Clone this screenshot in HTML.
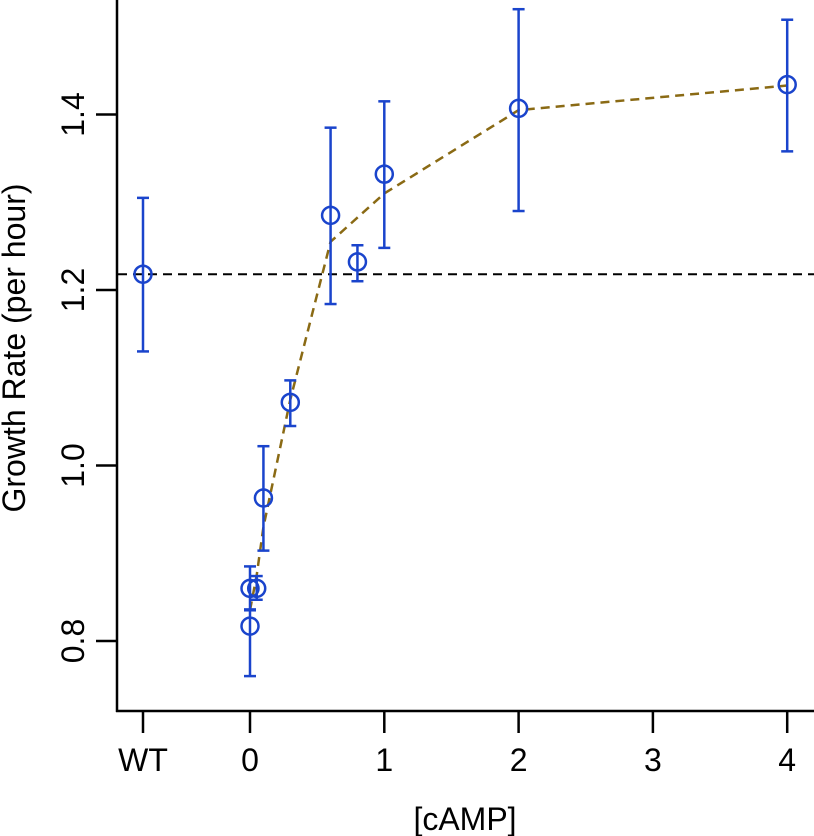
<!DOCTYPE html>
<html><head><meta charset="utf-8"><style>
html,body{margin:0;padding:0;background:#fff;}
svg{display:block;font-family:"Liberation Sans",Arial,sans-serif;}
</style></head><body>
<svg id="chart" width="814" height="836" viewBox="0 0 814 836" xmlns="http://www.w3.org/2000/svg"></svg>
<script>
const camp = [0, 0, 0.05, 0.1, 0.3, 0.6, 0.8, 1, 2, 4];
const rate = [0.86, 0.817, 0.86, 0.963, 1.072, 1.285, 1.232, 1.332, 1.407, 1.434];
const errLo = [0.835, 0.76, 0.847, 0.903, 1.045, 1.184, 1.21, 1.248, 1.29, 1.358];
const errHi = [0.885, 0.836, 0.874, 1.022, 1.097, 1.385, 1.251, 1.415, 1.52, 1.508];
const wtRate = 1.218, wtLo = 1.13, wtHi = 1.305;
const fitX = [0, 0.05, 0.1, 0.3, 0.6, 1, 2, 4];
const fitY = [0.835, 0.875, 0.93, 1.075, 1.255, 1.31, 1.405, 1.433];
const xTickVals = [0, 1, 2, 3, 4];
const xTickLabels = ["0", "1", "2", "3", "4"];
const yTickVals = [0.8, 1.0, 1.2, 1.4];
const yTickLabels = ["0.8", "1.0", "1.2", "1.4"];

const svg = document.getElementById('chart');
const NS = 'http://www.w3.org/2000/svg';
const X = v => 250 + v * 134.3;
const XWT = 143;
const Y = v => 641 - (v - 0.8) * 877.5;
function mk(tag, attrs, parent) {
  const e = document.createElementNS(NS, tag);
  for (const k in attrs) e.setAttribute(k, attrs[k]);
  (parent || svg).appendChild(e);
  return e;
}
let e;
e = mk('line', {x1:117, y1:0, x2:117, y2:712, stroke:'#000', 'stroke-width':2.5});


e = mk('line', {x1:116, y1:711, x2:814, y2:711, stroke:'#000', 'stroke-width':2.5});


yTickVals.forEach((v, i) => {
  const t = mk('line', {x1:96, y1:Y(v), x2:117, y2:Y(v), stroke:'#000', 'stroke-width':2.5});
  
  
  const l = mk('text', {x:0, y:0, 'font-size':32, 'text-anchor':'middle', transform:`translate(84,${Y(v)}) rotate(-90)`});
  l.textContent = yTickLabels[i];
  
  
});
function xtick(x, label) {
  const t = mk('line', {x1:x, y1:711, x2:x, y2:733, stroke:'#000', 'stroke-width':2.5});
  
  
  const l = mk('text', {x:x, y:771, 'font-size':32, 'text-anchor':'middle'});
  l.textContent = label;
  
  
}
xtick(XWT, 'WT');
xTickVals.forEach((v, i) => xtick(X(v), xTickLabels[i]));
e = mk('text', {x:465, y:830, 'font-size':32, 'text-anchor':'middle'});
e.textContent = '[cAMP]';


e = mk('text', {x:0, y:0, 'font-size':32, 'text-anchor':'middle', transform:'translate(25,348) rotate(-90)'});
e.textContent = 'Growth Rate (per hour)';


e = mk('line', {x1:118, y1:Y(wtRate), x2:814, y2:Y(wtRate), stroke:'#000', 'stroke-width':2, 'stroke-dasharray':'9,6'});


e = mk('polyline', {points: fitX.map((v, i) => X(v) + ',' + Y(fitY[i])).join(' '), fill:'none', stroke:'#8a6a14', 'stroke-width':2.5, 'stroke-dasharray':'9,6'});


function point(x, v, lo, hi) {
  const g = mk('g', {});
  
  
  const c = '#1a44cc';
  mk('line', {x1:x, y1:Y(lo), x2:x, y2:Y(hi), stroke:c, 'stroke-width':2.5}, g);
  mk('line', {x1:x-6, y1:Y(lo), x2:x+6, y2:Y(lo), stroke:c, 'stroke-width':2.5}, g);
  mk('line', {x1:x-6, y1:Y(hi), x2:x+6, y2:Y(hi), stroke:c, 'stroke-width':2.5}, g);
  mk('circle', {cx:x, cy:Y(v), r:8.5, fill:'none', stroke:c, 'stroke-width':2.5}, g);
}
point(XWT, wtRate, wtLo, wtHi);
camp.forEach((v, i) => point(X(v), rate[i], errLo[i], errHi[i]));
</script>
</body></html>
